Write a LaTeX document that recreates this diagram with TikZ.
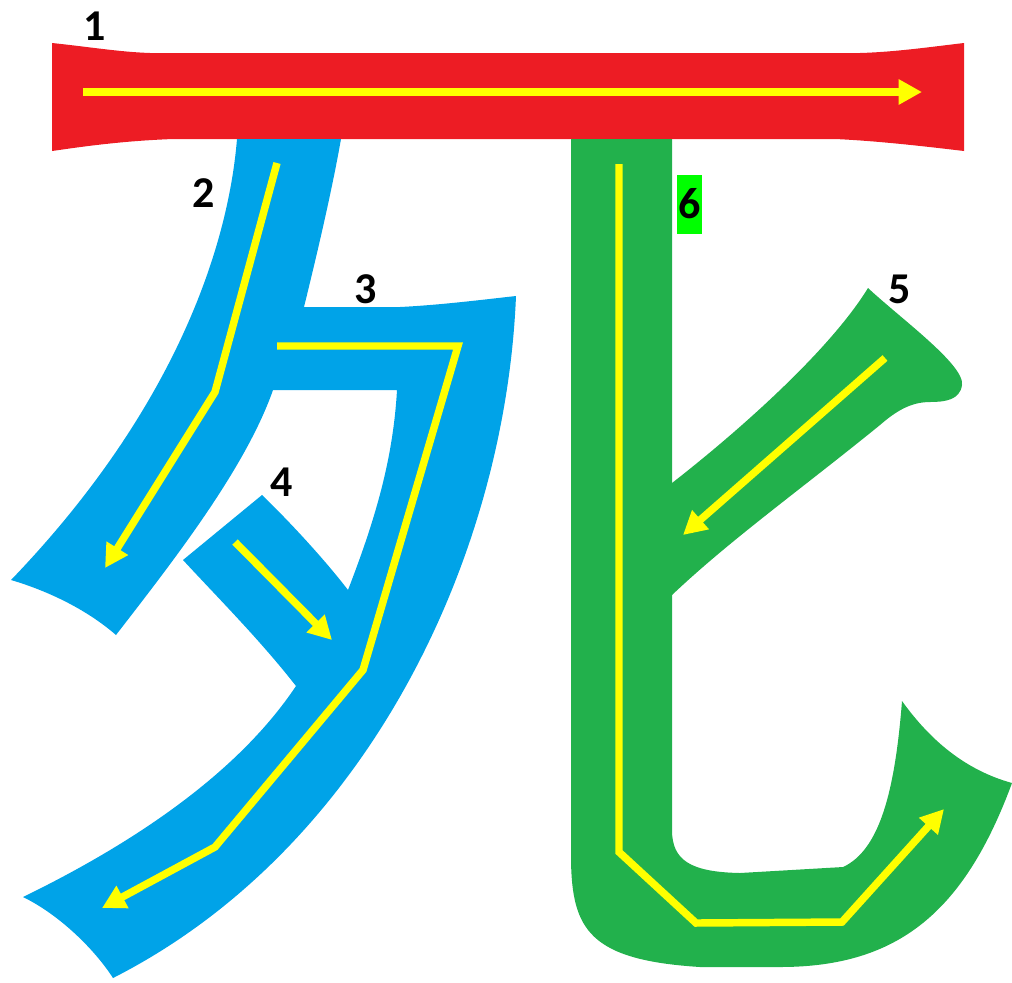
\documentclass[tikz,border=0pt]{standalone}
\usepackage{fontspec}
\setmainfont{Carlito}
\usetikzlibrary{arrows.meta}
\definecolor{sred}{HTML}{ED1C24}
\definecolor{sblue}{HTML}{00A3E8}
\definecolor{sgreen}{HTML}{22B14C}
\definecolor{syellow}{HTML}{FFFF00}
\definecolor{lgreen}{HTML}{00FF00}
\tikzset{
  guide/.style={draw=syellow, line width=5.6pt, line join=miter, -{Triangle[length=17.5pt,width=18pt]}},
  num/.style={font=\fontsize{33}{33}\selectfont\bfseries, text=black, inner sep=0pt},
}
\begin{document}
\begin{tikzpicture}[x=0.75pt,y=-0.75pt]
\useasboundingbox (0,0) rectangle (1012,982);
% stroke 1 (red)
\fill[sred] (52,43) .. controls (90,47) and (120,52) .. (150,53) -- (860,53)
  .. controls (895,52) and (930,47) .. (964,43) -- (964,151)
  .. controls (930,147) and (880,141) .. (835,139) -- (173,139)
  .. controls (120,141) and (80,147) .. (52,151) -- cycle;
% stroke 2 (blue)
\fill[sblue] (237,139) .. controls (227,260) and (165,420) .. (11,580)
  .. controls (45,590) and (85,608) .. (116,635)
  .. controls (170,565) and (245,470) .. (273,390)
  -- (304,307) .. controls (318,250) and (332,190) .. (341,139) -- cycle;
% stroke 3 (blue)
\fill[sblue] (265,307) -- (400,307) .. controls (440,305) and (480,300) .. (516,296)
  .. controls (505,560) and (365,850) .. (113,978)
  .. controls (95,950) and (60,915) .. (23,897)
  .. controls (140,840) and (240,770) .. (296,686)
  -- (348,590) .. controls (375,520) and (393,460) .. (397,390)
  -- (265,390) -- cycle;
% stroke 4 (blue)
\fill[sblue] (262,495) .. controls (290,522) and (325,560) .. (348,590)
  -- (372,640) -- (296,686)
  .. controls (260,640) and (220,600) .. (183,560) -- cycle;
% stroke 6 (green)
\fill[sgreen] (571,139) -- (571,860)
  .. controls (572,930) and (590,960) .. (700,967) -- (780,967)
  .. controls (900,967) and (965,910) .. (1012,783)
  .. controls (965,770) and (930,740) .. (902,701)
  .. controls (895,790) and (880,850) .. (843,867)
  -- (740,873) .. controls (690,872) and (672,860) .. (672,830)
  -- (672,139) -- cycle;
% stroke 5 (green)
\fill[sgreen] (640,500) -- (672,483) .. controls (740,430) and (830,350) .. (868,288)
  .. controls (900,318) and (965,365) .. (962,385)
  .. controls (960,400) and (945,402) .. (930,402)
  .. controls (910,402) and (895,412) .. (880,425)
  .. controls (800,490) and (730,540) .. (672,595)
  -- (640,600) -- cycle;
% guide arrows
\coordinate (a1s) at (83,92);  \coordinate (a1e) at (922,92);
\draw[guide] (a1s) -- (a1e);
\coordinate (a2s) at (277,163); \coordinate (a2m) at (215,392); \coordinate (a2e) at (105,568);
\draw[guide] (a2s) -- (a2m) -- (a2e);
\coordinate (a3s) at (277,346); \coordinate (a3m1) at (458,346); \coordinate (a3m2) at (363,670); \coordinate (a3m3) at (215,847); \coordinate (a3e) at (102,908);
\draw[guide] (a3s) -- (a3m1) -- (a3m2) -- (a3m3) -- (a3e);
\coordinate (a4s) at (235,542); \coordinate (a4e) at (332,640);
\draw[guide] (a4s) -- (a4e);
\coordinate (a5s) at (885,358); \coordinate (a5e) at (683,535);
\draw[guide] (a5s) -- (a5e);
\coordinate (a6s) at (619,164); \coordinate (a6m1) at (619,852); \coordinate (a6m2) at (696,923); \coordinate (a6m3) at (842,922); \coordinate (a6e) at (944,809);
\draw[guide] (a6s) -- (a6m1) -- (a6m2) -- (a6m3) -- (a6e);
% labels
\node[num] (n1) at (95,26) {1};
\node[num] (n2) at (204,193) {2};
\node[num] (n3) at (366,289) {3};
\node[num] (n4) at (282,482) {4};
\node[num] (n5) at (900,289) {5};
\node[num, fill=lgreen, minimum width=18.75pt, minimum height=44.25pt] (n6) at (689.5,204) {6};
\end{tikzpicture}
\end{document}
